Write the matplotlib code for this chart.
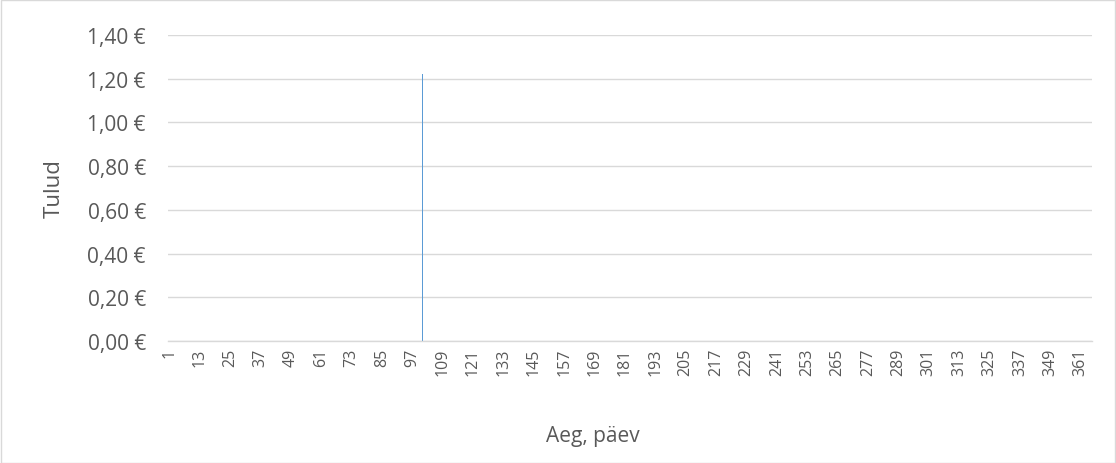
import matplotlib
matplotlib.use("Agg")
import matplotlib.pyplot as plt
from matplotlib.ticker import FuncFormatter, MultipleLocator

# Daily income over one year (days 1..365); only one day has income
days = list(range(1, 366))
income_day = 101
income_value = 1.22
income = [income_value if d == income_day else 0.0 for d in days]

tick_days = days[::12]
y_max = 1.40

TEXT = "#595959"
GRID = "#D9D9D9"
BAR = "#5B9BD5"

plt.rcParams["font.family"] = ["Open Sans", "DejaVu Sans"]

fig = plt.figure(figsize=(11.16, 4.64), dpi=100)
fig.patch.set_facecolor("white")
ax = fig.add_axes([168 / 1116, 1 - 342 / 464, (1092 - 168) / 1116, (342 - 36) / 464])

positions = list(range(len(days)))
ax.bar(positions, income, width=0.4, color=BAR, linewidth=0, zorder=3)

ax.set_xlim(-0.5, len(days) - 0.5)
ax.set_ylim(0, y_max)
ax.yaxis.set_major_locator(MultipleLocator(0.2))
ax.yaxis.set_major_formatter(
    FuncFormatter(lambda v, _: f"{v:.2f}".replace(".", ",") + " €"))

ax.set_xticks([days.index(d) for d in tick_days])
ax.set_xticklabels([str(d) for d in tick_days], rotation=90)

ax.grid(axis="y", color=GRID, linewidth=1, zorder=0)
for side in ("top", "right", "left"):
    ax.spines[side].set_visible(False)
ax.spines["bottom"].set_color(GRID)
ax.spines["bottom"].set_linewidth(1)
ax.spines["bottom"].set_zorder(4)

ax.tick_params(axis="both", length=0, colors=TEXT)
ax.tick_params(axis="y", labelsize=15, pad=16)
ax.tick_params(axis="x", labelsize=11.5, pad=5)

fig.text(54 / 1116, 1 - 189 / 464, "Tulud", rotation=90, ha="center",
         va="center", fontsize=16, color=TEXT)
fig.text(593 / 1116, 1 - 437 / 464, "Aeg, päev", ha="center", va="center",
         fontsize=15, color=TEXT)

# thin border around the chart area
border = plt.Rectangle((0.5 / 1116, 0.5 / 464), 1 - 1.5 / 1116, 1 - 1.5 / 464,
                       transform=fig.transFigure, fill=False,
                       edgecolor="#D9D9D9", linewidth=1)
fig.patches.append(border)

fig.savefig("out.png", dpi=100, facecolor="white")
